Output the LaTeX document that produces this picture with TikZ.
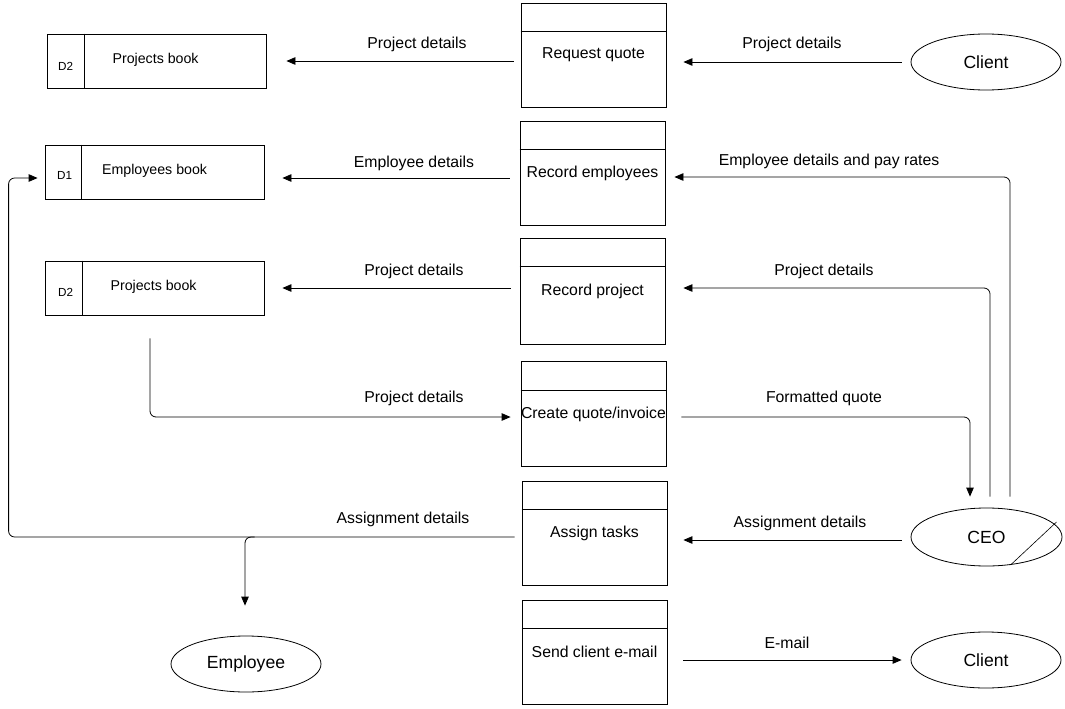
\documentclass[tikz,border=0pt]{standalone}
\usepackage{fontspec}
\setmainfont{Liberation Sans}
\usetikzlibrary{arrows.meta,calc,shapes.geometric}
\begin{document}
\begin{tikzpicture}[x=1pt,y=-1pt,
 every node/.style={inner sep=0pt},
 proc/.style={draw, line width=0.8pt, minimum width=145pt, minimum height=104pt, font=\fontsize{15.8}{18}\selectfont},
 store/.style={draw, line width=0.8pt, minimum width=219pt, minimum height=54pt},
 ent/.style={draw, ellipse, line width=0.8pt, minimum width=150pt, minimum height=56pt, font=\fontsize{17.6}{20}\selectfont},
 flow/.style={line width=0.8pt, -{Triangle[length=9pt,width=7.5pt]}, rounded corners=6pt},
 lab/.style={font=\fontsize{15.8}{18}\selectfont},
 sname/.style={font=\fontsize{14.2}{17}\selectfont},
 sid/.style={font=\fontsize{11.7}{14}\selectfont}]
\useasboundingbox (0,0) rectangle (1065,709);
\fill[white] (0,0) rectangle (1065,709);

% processes
\node[proc] (rq) at (593.5,55) {Request quote};
\node[proc] (re) at (592.5,173) {Record employees};
\node[proc, minimum height=106pt] (rp) at (592.5,291) {Record project};
\node[proc, minimum height=105pt] (cq) at (593.5,414) {Create quote/invoice};
\node[proc] (at) at (594.5,533) {Assign tasks};
\node[proc] (sce) at (594.5,652) {Send client e-mail};
\foreach \p in {rq,re,rp,cq,at,sce}
  \draw[line width=0.8pt] (\p.north west) ++(0,29) -- ++(145,0);

% stores
\node[store] (d2a) at (156.5,61) {};
\node[store] (d1) at (154.5,172) {};
\node[store] (d2b) at (154.5,288) {};
\draw[line width=0.8pt] (d2a.north west) ++(38,0) -- ++(0,54);
\draw[line width=0.8pt] (d1.north west) ++(37,0) -- ++(0,54);
\draw[line width=0.8pt] (d2b.north west) ++(38,0) -- ++(0,54);
\node[sid] (d2aid) at ($(d2a.west)+(19,5)$) {D2};
\node[sname] (d2anm) at ($(d2a.west)+(109,-1)$) {Projects book};
\node[sid] (d1id) at ($(d1.west)+(20,3)$) {D1};
\node[sname] (d1nm) at ($(d1.west)+(110,-1)$) {Employees book};
\node[sid] (d2bid) at ($(d2b.west)+(21,4)$) {D2};
\node[sname] (d2bnm) at ($(d2b.west)+(109,-1)$) {Projects book};

% entities
\node[ent] (cl1) at (986,62) {Client};
\node[ent, minimum width=151pt, minimum height=58pt] (ceo) at (986.5,537) {CEO};
\node[ent] (emp) at (246,664) {Employee};
\node[ent] (cl2) at (986,660) {Client};
\draw[line width=0.6pt] ($(ceo.center)+(24,28)$) -- ($(ceo.center)+(70,-15)$);

% flows
\draw[flow] ($(d2a.east -| rq.west)+(-7,0)$) -- ($(d2a.east)+(20,0)$);
\draw[flow] ($(cl1.west)+(-9,0)$) -- ($(cl1.west -| rq.east)+(17,0)$);
\draw[flow] ($(re.west)+(-10,5)$) -- ($(d1.east)+(18,6)$);
\draw[flow] ($(ceo.north)+(23.5,-11)$) |- ($(re.east)+(9,4)$);
\draw[flow] ($(d2b.east -| rp.west)+(-9,0)$) -- ($(d2b.east)+(18,0)$);
\draw[flow] ($(ceo.north)+(3.5,-11)$) |- ($(rp.east)+(18,-3)$);
\draw[flow] ($(d2b.south)+(-4.5,23)$) |- ($(cq.west)+(-10,3)$);
\draw[flow] ($(cq.east)+(15,3)$) -| ($(ceo.north)+(-16.5,-11)$);
\draw[flow] ($(ceo.west)+(-9,3)$) -- ($(at.east)+(16,7)$);
\draw[flow] ($(at.west)+(-7,4)$) -| ($(d1.west)+(-36,6)$) -- ($(d1.west)+(-7,6)$);
\draw[flow] ($(at.west)+(-267,4)$) -| ($(emp.north)+(-1,-30)$);
\draw[flow] ($(sce.east)+(16,8)$) -- ($(cl2.west)+(-9,0)$);

% labels
\node[lab] (l1) at (417,44.5) {Project details};
\node[lab] (l2) at (792,44.5) {Project details};
\node[lab] (l3) at (414,163.5) {Employee details};
\node[lab] (l4) at (829,161.5) {Employee details and pay rates};
\node[lab] (l5) at (414,271.5) {Project details};
\node[lab] (l6) at (824,271.5) {Project details};
\node[lab] (l7) at (414,398.5) {Project details};
\node[lab] (l8) at (824,398.5) {Formatted quote};
\node[lab] (l9) at (403,519.5) {Assignment details};
\node[lab] (l10) at (800,523.5) {Assignment details};
\node[lab] (l11) at (787,642.5) {E-mail};
\end{tikzpicture}
\end{document}
